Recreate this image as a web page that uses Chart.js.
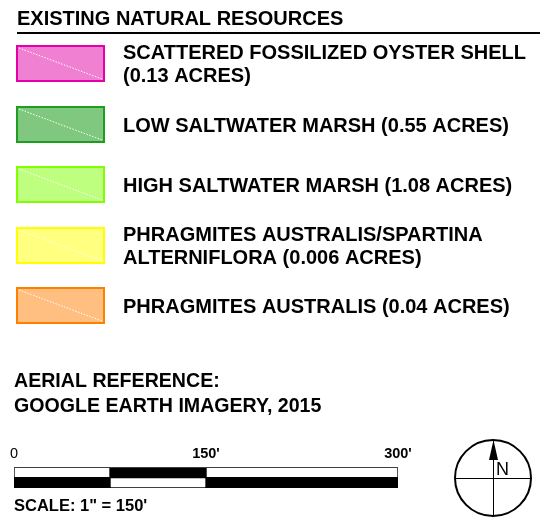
<!DOCTYPE html>
<html>
<head>
<meta charset="utf-8">
<script src="https://cdn.jsdelivr.net/npm/chart.js@4.4.1/dist/chart.umd.min.js"></script>
<style>
  html, body { margin: 0; padding: 0; background: #fff; }
  #wrap { width: 540px; height: 519px; position: relative; }
</style>
</head>
<body>
<div id="wrap"><canvas id="legend"></canvas></div>
<script>
const FONT = '"Liberation Sans", Arial, Helvetica, sans-serif';

// legend entries
const resourceLabels = [
  ["SCATTERED FOSSILIZED OYSTER SHELL", "(0.13 ACRES)"],
  ["LOW SALTWATER MARSH (0.55 ACRES)"],
  ["HIGH SALTWATER MARSH (1.08 ACRES)"],
  ["PHRAGMITES AUSTRALIS/SPARTINA", "ALTERNIFLORA (0.006 ACRES)"],
  ["PHRAGMITES AUSTRALIS (0.04 ACRES)"],
];
const fillColors = ["#f080d2", "#80c880", "#bfff80", "#ffff80", "#ffbf80"];
const borderColors = ["#e600a9", "#1e9e1e", "#80ff00", "#ffff00", "#ff8000"];

// scale bar (feet)
const scaleTicks = [0, 150, 300];
const barRows = ["upper", "lower"];
const segmentValues = [[75, 75], [75, 75], [150, 150]];
const segmentColors = [["#ffffff", "#000000"], ["#000000", "#ffffff"], ["#ffffff", "#000000"]];

const title = "EXISTING NATURAL RESOURCES";
const aerialLines = ["AERIAL REFERENCE:", "GOOGLE EARTH IMAGERY, 2015"];
const scaleNote = "SCALE: 1\" = 150'";

const legendPlugin = {
  id: "mapLegend",
  afterDraw(chart) {
    const ctx = chart.ctx;
    ctx.save();
    ctx.fillStyle = "#000";
    ctx.textBaseline = "alphabetic";
    ctx.textAlign = "left";

    // heading + rule
    ctx.font = "bold 20px " + FONT;
    ctx.fillText(title, 17, 25);
    ctx.fillRect(17, 32, 523, 2);

    // swatches
    const boxX = 17, boxW = 87, boxH = 35, top0 = 46, step = 60.5;
    ctx.font = "bold 20px " + FONT;
    resourceLabels.forEach((lines, i) => {
      const y = Math.round(top0 + step * i);
      ctx.fillStyle = fillColors[i];
      ctx.fillRect(boxX, y, boxW, boxH);
      ctx.strokeStyle = borderColors[i];
      ctx.lineWidth = 2;
      ctx.strokeRect(boxX, y, boxW, boxH);

      ctx.save();
      ctx.strokeStyle = "#ffffff";
      ctx.lineWidth = 1;
      ctx.setLineDash([1.5, 1.5]);
      ctx.beginPath();
      ctx.moveTo(boxX + 2, y + 2);
      ctx.lineTo(boxX + boxW - 2, y + boxH - 2);
      ctx.stroke();
      ctx.restore();

      ctx.fillStyle = "#000";
      if (lines.length === 1) {
        ctx.fillText(lines[0], 123, y + boxH / 2 + 7);
      } else {
        ctx.fillText(lines[0], 123, y + 13);
        ctx.fillText(lines[1], 123, y + 36);
      }
    });

    // aerial reference
    ctx.font = "bold 19.6px " + FONT;
    ctx.fillText(aerialLines[0], 14, 387);
    ctx.fillText(aerialLines[1], 14, 412);

    ctx.font = "bold 16.5px " + FONT;
    ctx.fillText(scaleNote, 14, 511);

    // north arrow
    const cx = 493, cy = 478, r = 38;
    ctx.strokeStyle = "#000";
    ctx.lineWidth = 2;
    ctx.beginPath();
    ctx.arc(cx, cy, r, 0, Math.PI * 2);
    ctx.stroke();
    ctx.lineWidth = 1;
    ctx.beginPath();
    ctx.moveTo(cx - r, cy + 0.5);
    ctx.lineTo(cx + r, cy + 0.5);
    ctx.moveTo(cx + 0.5, cy - r);
    ctx.lineTo(cx + 0.5, cy + r);
    ctx.stroke();
    ctx.beginPath();
    ctx.moveTo(cx + 0.5, cy - r);
    ctx.lineTo(cx - 4, cy - r + 20);
    ctx.lineTo(cx + 5, cy - r + 20);
    ctx.closePath();
    ctx.fill();
    ctx.font = "18px " + FONT;
    ctx.fillText("N", cx + 3, cy - 3);

    ctx.restore();
  },
};

new Chart(document.getElementById("legend"), {
  type: "bar",
  data: {
    labels: barRows,
    datasets: segmentValues.map((vals, i) => ({
      data: vals,
      backgroundColor: segmentColors[i],
      borderColor: "#000",
      borderWidth: 1,
      borderSkipped: false,
      barPercentage: 1,
      categoryPercentage: 1,
    })),
  },
  options: {
    indexAxis: "y",
    responsive: true,
    maintainAspectRatio: false,
    animation: false,
    layout: { padding: { left: 14, right: 142, top: 446.6, bottom: 31 } },
    plugins: { legend: { display: false }, tooltip: { enabled: false } },
    scales: {
      x: {
        stacked: true,
        position: "top",
        min: 0,
        max: 300,
        afterBuildTicks: (axis) => {
          axis.ticks = scaleTicks.map((v) => ({ value: v }));
        },
        ticks: {
          autoSkip: false,
          maxRotation: 0,
          padding: 5,
          color: "#000",
          font: (c) => ({ family: FONT, size: 14.5, weight: c.index === 0 ? "normal" : "bold" }),
          callback: (v) => (v === 0 ? "0" : v + "'"),
        },
        grid: { display: false, drawTicks: false },
        border: { display: false },
      },
      y: { stacked: true, display: false },
    },
  },
  plugins: [legendPlugin],
});
</script>
</body>
</html>
